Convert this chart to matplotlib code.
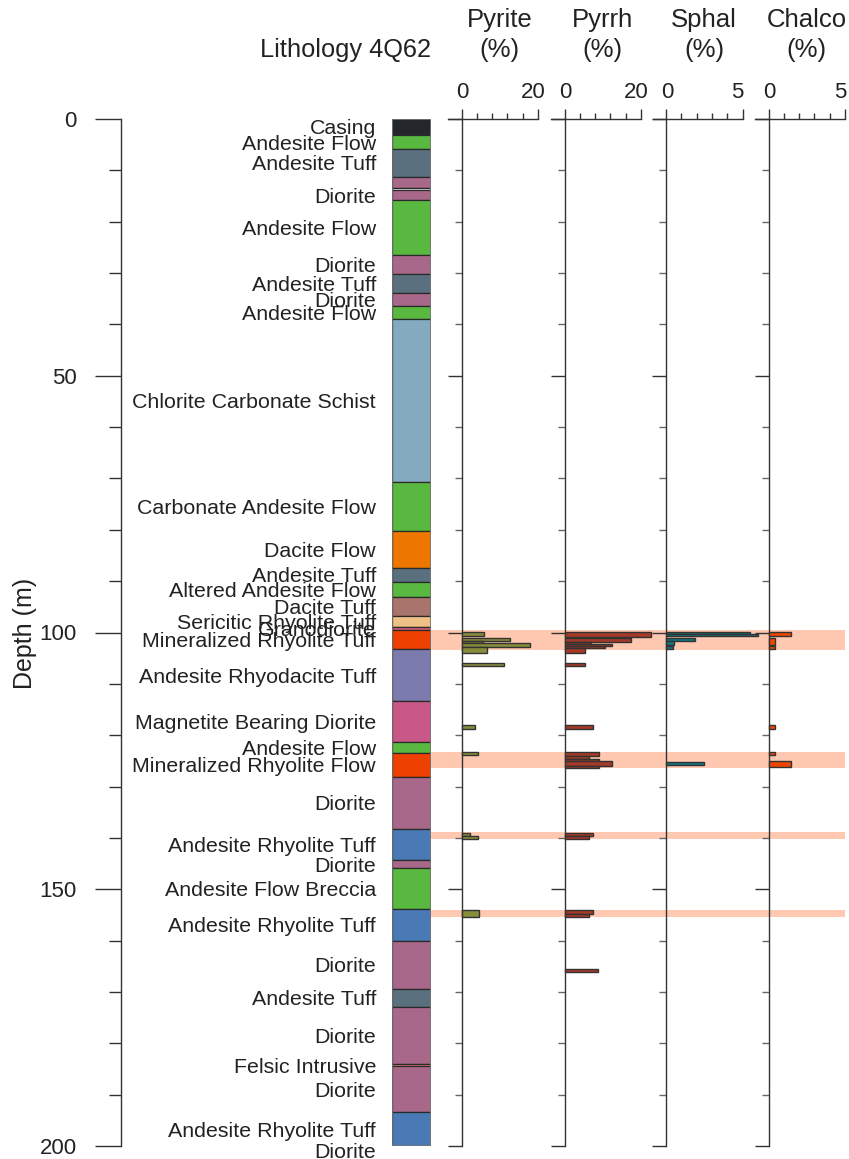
import matplotlib
matplotlib.use("Agg")
import matplotlib.pyplot as plt
from matplotlib.patches import Rectangle
from matplotlib.ticker import MultipleLocator, FixedLocator
import matplotlib.transforms as mtransforms

plt.rcParams['font.family'] = ['Liberation Sans', 'DejaVu Sans']

# ---------------- data ----------------
litho_names = ["Casing", "Andesite Flow", "Andesite Tuff", "Diorite", "Gap", "Diorite",
               "Andesite Flow", "Diorite", "Andesite Tuff", "Diorite", "Andesite Flow",
               "Chlorite Carbonate Schist", "Carbonate Andesite Flow", "Dacite Flow",
               "Andesite Tuff", "Altered Andesite Flow", "Dacite Tuff",
               "Sericitic Rhyolite Tuff", "Granodiorite", "Mineralized Rhyolite Tuff",
               "Andesite Rhyodacite Tuff", "Magnetite Bearing Diorite", "Andesite Flow",
               "Mineralized Rhyolite Flow", "Diorite", "Andesite Rhyolite Tuff", "Diorite",
               "Andesite Flow Breccia", "Andesite Rhyolite Tuff", "Diorite", "Andesite Tuff",
               "Diorite", "Felsic Intrusive", "Diorite", "Andesite Rhyolite Tuff", "Diorite"]
litho_tops = [0.0, 3.1, 5.9, 11.2, 13.4, 13.9, 15.8, 26.5, 30.2, 33.8, 36.4, 39.0, 70.7,
              80.3, 87.4, 90.2, 93.0, 96.7, 99.0, 99.6, 103.3, 113.4, 121.3, 123.4, 128.1,
              138.3, 144.3, 145.9, 153.8, 160.1, 169.4, 172.9, 184.0, 184.5, 193.3, 200.1]
litho_bottoms = [3.1, 5.9, 11.2, 13.4, 13.9, 15.8, 26.5, 30.2, 33.8, 36.4, 39.0, 70.7, 80.3,
                 87.4, 90.2, 93.0, 96.7, 99.0, 99.6, 103.3, 113.4, 121.3, 123.4, 128.1, 138.3,
                 144.3, 145.9, 153.8, 160.1, 169.4, 172.9, 184.0, 184.5, 193.3, 200.1, 201.5]
litho_show_label = [True, True, True, False, False, True, True, True, True, True, True, True,
                    True, True, True, True, True, True, True, True, True, True, True, True,
                    True, True, True, True, True, True, True, True, True, True, True, True]
litho_colors = {
    "Casing": "#23272b", "Andesite Flow": "#58b840", "Andesite Tuff": "#5b707e",
    "Diorite": "#a8688a", "Gap": "#ffffff", "Chlorite Carbonate Schist": "#84aac0",
    "Carbonate Andesite Flow": "#58b840", "Dacite Flow": "#ee7700",
    "Altered Andesite Flow": "#58b840", "Dacite Tuff": "#a8746c",
    "Sericitic Rhyolite Tuff": "#eec085", "Granodiorite": "#d6607a",
    "Mineralized Rhyolite Tuff": "#ee4000", "Andesite Rhyodacite Tuff": "#7b7bad",
    "Magnetite Bearing Diorite": "#c75887", "Mineralized Rhyolite Flow": "#ee4000",
    "Andesite Rhyolite Tuff": "#4a7ab5", "Andesite Flow Breccia": "#58b840",
    "Felsic Intrusive": "#e8846a",
}

# mineral intervals: top depth, bottom depth, value (%)
pyrite_top = [99.9, 101.0, 101.6, 102.0, 102.9, 105.9, 118.1, 123.3, 139.0, 139.6, 154.1]
pyrite_bot = [100.7, 101.6, 102.0, 102.9, 103.9, 106.5, 118.7, 123.9, 139.6, 140.2, 155.4]
pyrite_val = [5.8, 12.8, 5.6, 17.9, 6.7, 11.1, 3.6, 4.3, 2.1, 4.3, 4.7]

pyrrh_top = [99.9, 101.1, 101.8, 102.3, 102.6, 103.1, 105.9, 118.1, 123.3, 124.0, 124.6,
             125.0, 126.0, 139.0, 139.6, 154.1, 154.8, 165.6]
pyrrh_bot = [100.8, 101.8, 102.3, 102.6, 103.1, 103.9, 106.5, 118.7, 124.0, 124.6, 125.0,
             126.0, 126.3, 139.6, 140.2, 154.8, 155.4, 166.1]
pyrrh_val = [22.5, 17.5, 6.8, 12.5, 10.7, 5.4, 5.4, 7.5, 9.0, 6.3, 9.0, 12.5, 9.0, 7.5, 6.3,
             7.5, 6.3, 8.7]

sphal_top = [99.9, 100.3, 101.1, 101.6, 102.7, 125.3]
sphal_bot = [100.3, 100.7, 101.6, 102.4, 103.3, 125.9]
sphal_val = [5.5, 6.0, 1.9, 0.5, 0.45, 2.5]

chalco_top = [99.9, 101.1, 102.7, 118.1, 123.3, 125.0]
chalco_bot = [100.7, 102.4, 103.3, 118.7, 123.9, 126.1]
chalco_val = [1.5, 0.45, 0.45, 0.45, 0.45, 1.5]

minerals = ["Pyrite", "Pyrrh", "Sphal", "Chalco"]
mineral_max = [20, 20, 5, 5]
mineral_colors = ["#878d3b", "#a63a28", "#10777f", "#ee4500"]
mineral_data = [(pyrite_top, pyrite_bot, pyrite_val), (pyrrh_top, pyrrh_bot, pyrrh_val),
                (sphal_top, sphal_bot, sphal_val), (chalco_top, chalco_bot, chalco_val)]

# mineralized zones (highlight bands)
zone_top = [99.5, 123.3, 138.8, 154.0]
zone_bot = [103.4, 126.3, 140.2, 155.4]

# ---------------- layout ----------------
W, H = 849, 1159
fig = plt.figure(figsize=(W / 100, H / 100), dpi=100)
y_top_px, y_bot_px = 119, 1146
ax_bottom = 1 - y_bot_px / H
ax_height = (y_bot_px - y_top_px) / H
TXT = '#222222'


def fx(px):
    return px / W


def fy(px):
    return 1 - px / H


# depth axis
ax_d = fig.add_axes([fx(121), ax_bottom, fx(5), ax_height])
ax_d.set_facecolor('none')
ax_d.set_ylim(200, 0)
ax_d.set_xlim(0, 1)
for s in ['top', 'right', 'bottom']:
    ax_d.spines[s].set_visible(False)
ax_d.spines['left'].set_color('#333333')
ax_d.spines['left'].set_linewidth(1.0)
ax_d.set_xticks([])
ax_d.yaxis.set_major_locator(MultipleLocator(50))
ax_d.yaxis.set_minor_locator(MultipleLocator(10))
ax_d.tick_params(axis='y', which='major', length=18.7, width=1.0, color='#333333',
                 labelsize=16, pad=13, labelcolor=TXT)
ax_d.tick_params(axis='y', which='minor', length=8.6, width=1.0, color='#333333')
fig.text(fx(25), fy(633), "Depth (m)", rotation=90, ha='center', va='center',
         fontsize=18, color=TXT)

# lithology column
ax_l = fig.add_axes([fx(392), ax_bottom, fx(39), ax_height])
ax_l.set_facecolor('none')
ax_l.set_ylim(200, 0)
ax_l.set_xlim(0, 1)
ax_l.axis('off')
trans_l = mtransforms.blended_transform_factory(ax_l.transAxes, ax_l.transData)
for name, t, b, show in zip(litho_names, litho_tops, litho_bottoms, litho_show_label):
    ax_l.add_patch(Rectangle((0, t), 1, b - t, facecolor=litho_colors[name],
                             edgecolor='#2a2a2a', linewidth=0.9))
    if show:
        ax_l.text(-16 / 39, (t + b) / 2, name, transform=trans_l, ha='right',
                  va='center_baseline', fontsize=15.4, color=TXT, clip_on=False)
ax_l.add_patch(Rectangle((0, 0), 1, 200, facecolor='none', edgecolor='#777777', linewidth=1.2))

fig.text(fx(431), fy(50), "Lithology 4Q62", ha='right', va='center', fontsize=18.3,
         color=TXT)

# highlight bands spanning from litho column to right edge
trans_band = mtransforms.blended_transform_factory(fig.transFigure, ax_d.transData)
for t, b in zip(zone_top, zone_bot):
    fig.patches.append(Rectangle((fx(430), t), fx(845) - fx(430), b - t, transform=trans_band,
                                 facecolor='#ffc8b0', edgecolor='none', zorder=-1))

# mineral panels
panel_left = [448, 551, 652.5, 755]
panel_w = 90
zero_off = 13.5
for i, (name, mx, col, (tops, bots, vals)) in enumerate(
        zip(minerals, mineral_max, mineral_colors, mineral_data)):
    L = panel_left[i]
    ax = fig.add_axes([fx(L), ax_bottom, fx(panel_w), ax_height])
    ax.set_facecolor('none')
    xmin = -mx * zero_off / (panel_w - zero_off)
    ax.set_xlim(xmin, mx)
    ax.set_ylim(200, 0)
    for s in ['right', 'bottom']:
        ax.spines[s].set_visible(False)
    ax.spines['left'].set_position(('data', 0))
    ax.spines['left'].set_color('#333333')
    ax.spines['top'].set_color('#333333')
    ax.spines['left'].set_linewidth(1.0)
    ax.spines['top'].set_linewidth(1.0)
    ax.xaxis.set_ticks_position('top')
    ax.xaxis.set_major_locator(FixedLocator([0, mx]))
    ax.xaxis.set_minor_locator(MultipleLocator(mx / 5))
    ax.tick_params(axis='x', which='major', length=7, width=1.0, color='#333333',
                   labeltop=False)
    ax.tick_params(axis='x', which='minor', length=4.3, width=1.0, color='#333333')
    # top scale labels (right label sits slightly left of its tick)
    tr_top = mtransforms.blended_transform_factory(ax.transData, ax.transAxes)
    ax.text(0, 1.0, "0", transform=tr_top + mtransforms.ScaledTranslation(0.01, 0.27, fig.dpi_scale_trans),
            ha='center', va='center', fontsize=16, color=TXT)
    ax.text(mx, 1.0, f"{mx}", transform=tr_top + mtransforms.ScaledTranslation(-0.05, 0.27, fig.dpi_scale_trans),
            ha='center', va='center', fontsize=16, color=TXT)
    ax.yaxis.set_major_locator(MultipleLocator(50))
    ax.yaxis.set_minor_locator(MultipleLocator(10))
    ax.tick_params(axis='y', which='major', length=10, width=1.0, color='#333333',
                   labelleft=False)
    ax.tick_params(axis='y', which='minor', length=5, width=1.0, color='#666666')
    centers = [(t + b) / 2 for t, b in zip(tops, bots)]
    heights = [b - t for t, b in zip(tops, bots)]
    ax.barh(centers, vals, height=heights, left=0, color=col, edgecolor='#333333',
            linewidth=1.0, clip_on=False, zorder=3)
    cx = fx(L + zero_off + (panel_w - zero_off) / 2)
    fig.text(cx, fy(20), name, ha='center', va='center', fontsize=18.5, color=TXT)
    fig.text(cx, fy(50), "(%)", ha='center', va='center', fontsize=18.5, color=TXT)

fig.savefig("out.png", dpi=100, facecolor='white')
